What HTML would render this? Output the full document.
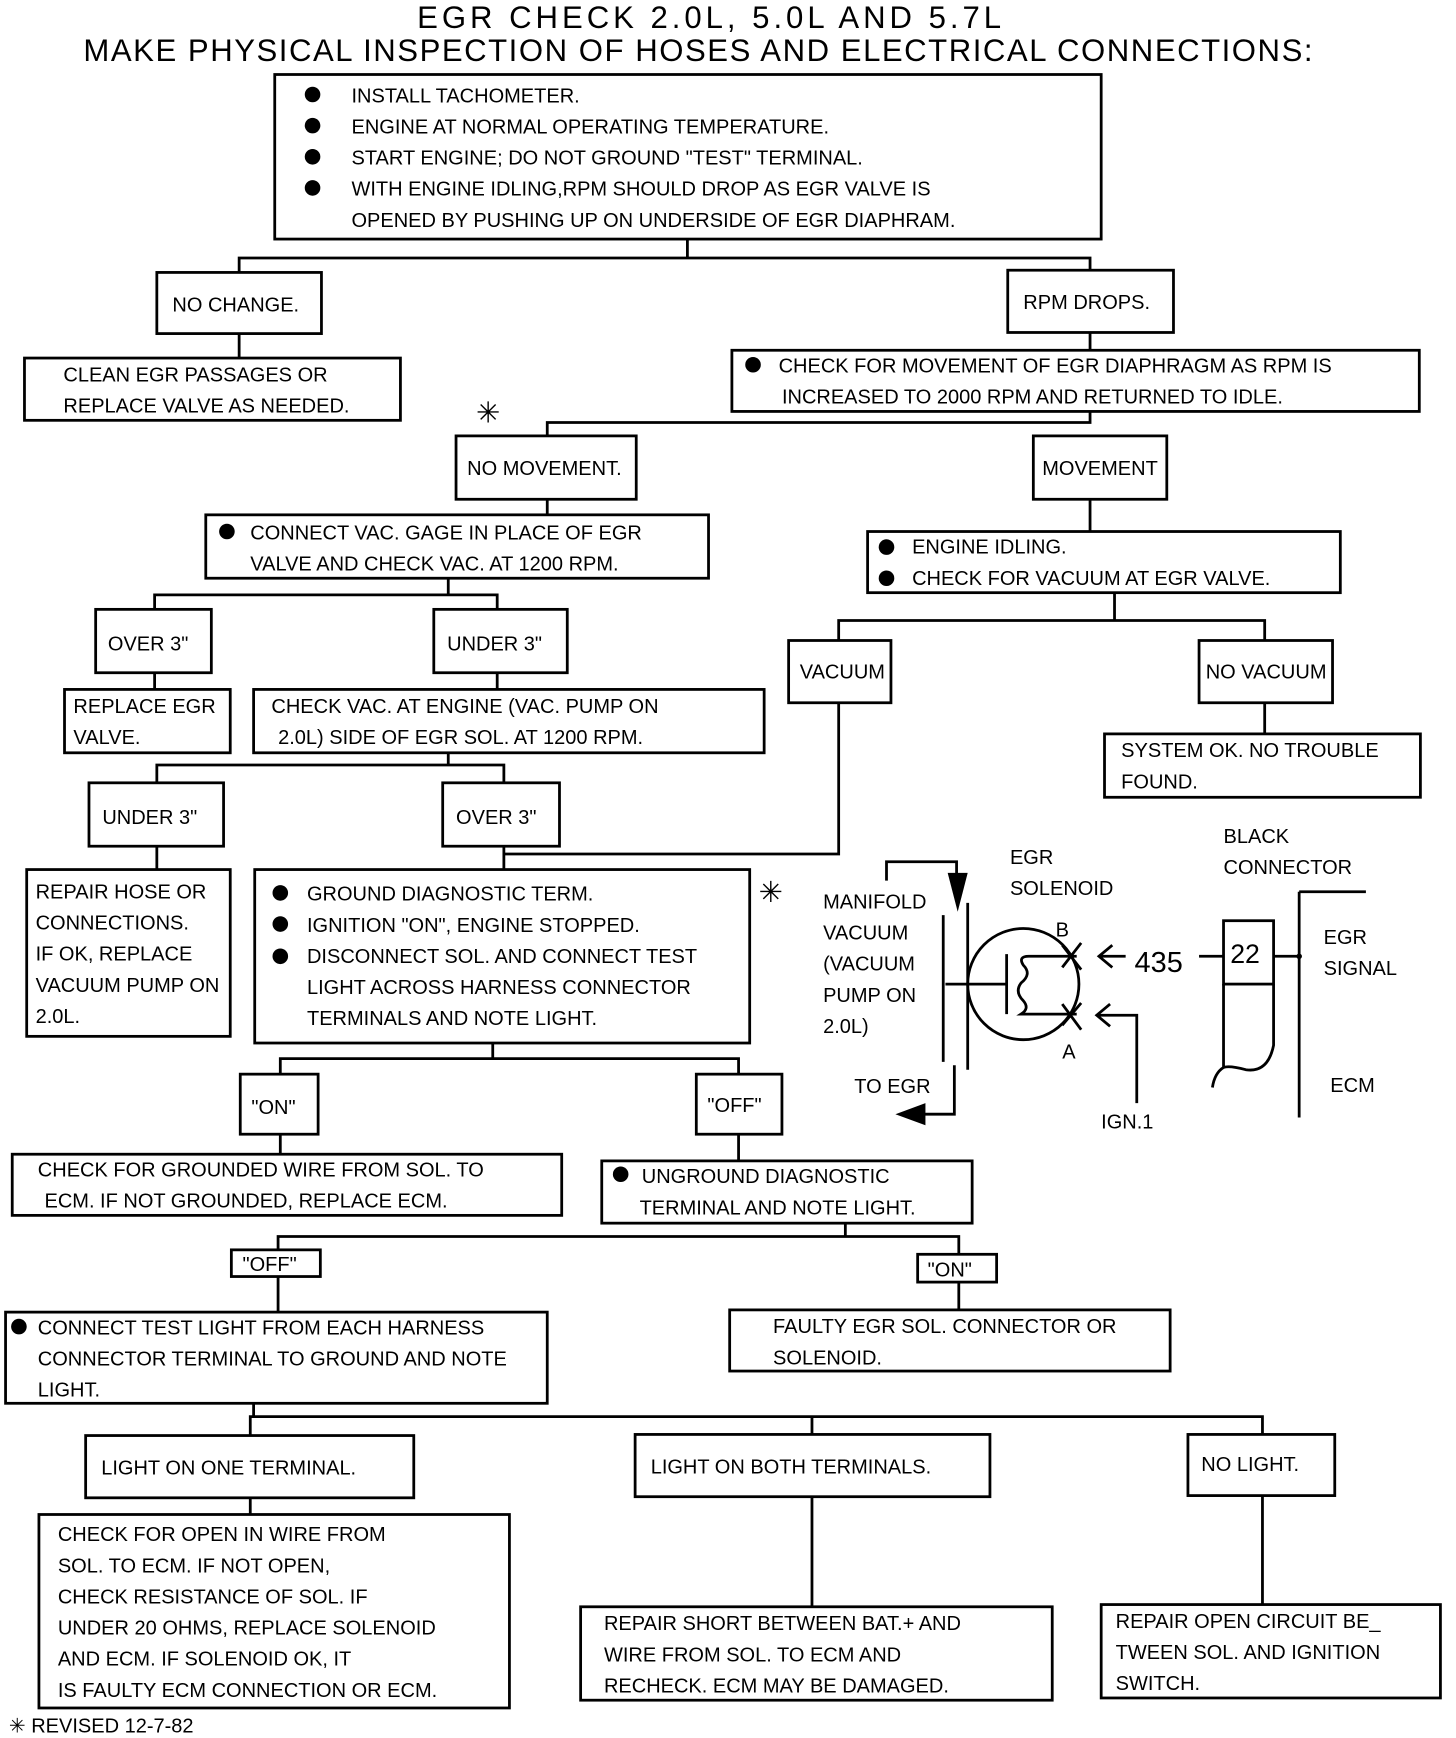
<!DOCTYPE html>
<html><head><meta charset="utf-8"><style>
html,body{margin:0;padding:0;background:#fff}
svg{display:block}
text{font-family:"Liberation Sans",sans-serif;font-size:18px;fill:#000}
</style></head><body>
<svg width="1456" height="1738" viewBox="0 0 1309 1563" preserveAspectRatio="none" xmlns="http://www.w3.org/2000/svg">
<g fill="none" stroke="#000" stroke-width="2.5">
<rect x="247" y="67" width="743" height="148"/>
<rect x="141" y="245" width="148" height="55"/>
<rect x="22" y="322" width="338" height="56"/>
<rect x="906" y="243" width="149" height="56"/>
<rect x="658" y="315" width="618" height="55"/>
<rect x="410" y="392" width="162" height="57"/>
<rect x="929" y="392" width="120" height="57"/>
<rect x="185" y="463" width="452" height="57"/>
<rect x="780" y="478" width="425" height="55"/>
<rect x="86" y="548" width="104" height="57"/>
<rect x="390" y="548" width="120" height="57"/>
<rect x="58" y="620" width="149" height="57"/>
<rect x="228" y="620" width="459" height="57"/>
<rect x="80" y="704" width="121" height="57"/>
<rect x="398" y="704" width="105" height="57"/>
<rect x="24" y="782" width="183" height="150"/>
<rect x="229" y="782" width="445" height="156"/>
<rect x="709" y="576" width="92" height="56"/>
<rect x="1078" y="576" width="120" height="56"/>
<rect x="993" y="660" width="284" height="57"/>
<rect x="216" y="966" width="70" height="54"/>
<rect x="626" y="966" width="77" height="54"/>
<rect x="11" y="1038" width="494" height="55"/>
<rect x="541" y="1044" width="333" height="56"/>
<rect x="208" y="1124" width="80" height="24"/>
<rect x="825" y="1128" width="71" height="25"/>
<rect x="5" y="1180" width="487" height="82"/>
<rect x="656" y="1178" width="396" height="55"/>
<rect x="77" y="1291" width="295" height="56"/>
<rect x="571" y="1290" width="319" height="56"/>
<rect x="1068" y="1290" width="132" height="55"/>
<rect x="35" y="1362" width="423" height="174"/>
<rect x="522" y="1445" width="424" height="84"/>
<rect x="990" y="1443" width="305" height="84"/>
<path d="M618 215V232M215 245V232H980V243M215 300V322M980 299V315M980 370V380H492V392M492 449V463M980 449V478"/>
<path d="M403 520V535M139 548V535H447V548M139 605V620M447 605V620"/>
<path d="M403 677V688M141 704V688H453V704M141 761V782M453 761V782M453 768H754V632"/>
<path d="M1002 533V558M754 576V558H1137V576M1137 632V660"/>
<path d="M443 938V952M252 966V952H664V966M252 1020V1038M664 1020V1044"/>
<path d="M760 1100V1112M250 1124V1112H862V1128M250 1148V1180M862 1153V1178"/>
<path d="M228 1262V1274M225 1291V1274H1135V1290M730 1274V1290M225 1347V1362M730 1346V1445M1135 1345V1443"/>
<path d="M797 792V775H860V788"/>
<path d="M848 823V955M870 812V962"/>
<path d="M858 958V1002H830"/>
<circle cx="920" cy="885" r="50"/>
<path d="M850 885H905M905 858V912"/>
<path d="M968 860H925Q915 860 920 868Q928 876 918 884Q912 892 920 900Q926 907 918 912H968"/>
<path d="M955 850L972 872M955 922L972 902M955 903L972 926M955 870L972 848"/>
<path d="M1000 850L988 860L1000 870M988 860H1012"/>
<path d="M998 903L986 913L998 923M986 913H1022V992"/>
<path d="M1078 860H1100"/>
<rect x="1100" y="828" width="45" height="57"/>
<path d="M1100 885V960M1145 885V940Q1140 965 1120 962Q1105 958 1100 960Q1092 965 1090 978M1145 860H1168M1168 802V1005M1168 802H1228"/>
</g>
<g fill="#000">
<polygon points="852,785 870,785 861,820"/>
<polygon points="805,1002 832,992 832,1012"/>
<circle cx="1168" cy="860" r="2.5"/>
<circle cx="281" cy="85" r="7"/><circle cx="281" cy="113" r="7"/><circle cx="281" cy="141" r="7"/><circle cx="281" cy="169" r="7"/>
<circle cx="677" cy="328" r="7"/>
<circle cx="204" cy="478" r="7"/>
<circle cx="797" cy="492" r="7"/><circle cx="797" cy="520" r="7"/>
<circle cx="252" cy="803" r="7"/><circle cx="252" cy="831" r="7"/><circle cx="252" cy="860" r="7"/>
<circle cx="558" cy="1056" r="7"/>
<circle cx="17" cy="1193" r="7"/>
</g>
<text x="375" y="25" textLength="525" style="font-size:28px">EGR CHECK 2.0L, 5.0L AND 5.7L</text>
<text x="75" y="55" textLength="1105" style="font-size:28px">MAKE PHYSICAL INSPECTION OF HOSES AND ELECTRICAL CONNECTIONS:</text>
<text x="316" y="92">INSTALL TACHOMETER.</text>
<text x="316" y="120">ENGINE AT NORMAL OPERATING TEMPERATURE.</text>
<text x="316" y="148">START ENGINE; DO NOT GROUND "TEST" TERMINAL.</text>
<text x="316" y="176">WITH ENGINE IDLING,RPM SHOULD DROP AS EGR VALVE IS</text>
<text x="316" y="204">OPENED BY PUSHING UP ON UNDERSIDE OF EGR DIAPHRAM.</text>
<text x="155" y="280">NO CHANGE.</text>
<text x="57" y="343">CLEAN EGR PASSAGES OR</text>
<text x="57" y="371">REPLACE VALVE AS NEEDED.</text>
<text x="920" y="278">RPM DROPS.</text>
<text x="700" y="335">CHECK FOR MOVEMENT OF EGR DIAPHRAGM AS RPM IS</text>
<text x="703" y="363">INCREASED TO 2000 RPM AND RETURNED TO IDLE.</text>
<text x="428" y="380" style="font-size:26px">✳</text>
<text x="420" y="427">NO MOVEMENT.</text>
<text x="937" y="427">MOVEMENT</text>
<text x="225" y="485">CONNECT VAC. GAGE IN PLACE OF EGR</text>
<text x="225" y="513">VALVE AND CHECK VAC. AT 1200 RPM.</text>
<text x="820" y="498">ENGINE IDLING.</text>
<text x="820" y="526">CHECK FOR VACUUM AT EGR VALVE.</text>
<text x="97" y="585">OVER 3"</text>
<text x="402" y="585">UNDER 3"</text>
<text x="66" y="641">REPLACE EGR</text>
<text x="66" y="669">VALVE.</text>
<text x="244" y="641">CHECK VAC. AT ENGINE (VAC. PUMP ON</text>
<text x="250" y="669">2.0L) SIDE OF EGR SOL. AT 1200 RPM.</text>
<text x="719" y="610">VACUUM</text>
<text x="1084" y="610">NO VACUUM</text>
<text x="1008" y="681">SYSTEM OK. NO TROUBLE</text>
<text x="1008" y="709">FOUND.</text>
<text x="92" y="741">UNDER 3"</text>
<text x="410" y="741">OVER 3"</text>
<text x="32" y="808">REPAIR HOSE OR</text>
<text x="32" y="836">CONNECTIONS.</text>
<text x="32" y="864">IF OK, REPLACE</text>
<text x="32" y="892">VACUUM PUMP ON</text>
<text x="32" y="920">2.0L.</text>
<text x="276" y="810">GROUND DIAGNOSTIC TERM.</text>
<text x="276" y="838">IGNITION "ON", ENGINE STOPPED.</text>
<text x="276" y="866">DISCONNECT SOL. AND CONNECT TEST</text>
<text x="276" y="894">LIGHT ACROSS HARNESS CONNECTOR</text>
<text x="276" y="922">TERMINALS AND NOTE LIGHT.</text>
<text x="682" y="811" style="font-size:26px">✳</text>
<text x="908" y="777">EGR</text>
<text x="908" y="805">SOLENOID</text>
<text x="1100" y="758">BLACK</text>
<text x="1100" y="786">CONNECTOR</text>
<text x="740" y="817">MANIFOLD</text>
<text x="740" y="845">VACUUM</text>
<text x="740" y="873">(VACUUM</text>
<text x="740" y="901">PUMP ON</text>
<text x="740" y="929">2.0L)</text>
<text x="949" y="842">B</text>
<text x="955" y="952">A</text>
<text x="1020" y="874" style="font-size:26px">435</text>
<text x="1106" y="866" style="font-size:24px">22</text>
<text x="1190" y="849">EGR</text>
<text x="1190" y="877">SIGNAL</text>
<text x="768" y="983">TO EGR</text>
<text x="1196" y="982">ECM</text>
<text x="990" y="1015">IGN.1</text>
<text x="226" y="1002">"ON"</text>
<text x="636" y="1000">"OFF"</text>
<text x="34" y="1058">CHECK FOR GROUNDED WIRE FROM SOL. TO</text>
<text x="40" y="1086">ECM.  IF NOT GROUNDED, REPLACE ECM.</text>
<text x="577" y="1064">UNGROUND DIAGNOSTIC</text>
<text x="575" y="1092">TERMINAL AND NOTE LIGHT.</text>
<text x="218" y="1143">"OFF"</text>
<text x="834" y="1148">"ON"</text>
<text x="34" y="1200">CONNECT TEST LIGHT FROM EACH HARNESS</text>
<text x="34" y="1228">CONNECTOR TERMINAL TO GROUND AND NOTE</text>
<text x="34" y="1256">LIGHT.</text>
<text x="695" y="1199">FAULTY EGR SOL. CONNECTOR OR</text>
<text x="695" y="1227">SOLENOID.</text>
<text x="91" y="1326">LIGHT ON ONE TERMINAL.</text>
<text x="585" y="1325">LIGHT ON BOTH TERMINALS.</text>
<text x="1080" y="1323">NO LIGHT.</text>
<text x="52" y="1386">CHECK FOR OPEN IN WIRE FROM</text>
<text x="52" y="1414">SOL. TO ECM.  IF NOT OPEN,</text>
<text x="52" y="1442">CHECK RESISTANCE OF SOL. IF</text>
<text x="52" y="1470">UNDER 20 OHMS, REPLACE SOLENOID</text>
<text x="52" y="1498">AND ECM.  IF SOLENOID OK, IT</text>
<text x="52" y="1526">IS FAULTY ECM CONNECTION OR ECM.</text>
<text x="543" y="1466">REPAIR SHORT BETWEEN BAT.+ AND</text>
<text x="543" y="1494">WIRE FROM SOL. TO ECM AND</text>
<text x="543" y="1522">RECHECK.  ECM MAY BE DAMAGED.</text>
<text x="1003" y="1464">REPAIR OPEN CIRCUIT BE_</text>
<text x="1003" y="1492">TWEEN SOL. AND IGNITION</text>
<text x="1003" y="1520">SWITCH.</text>
<text x="8" y="1558">✳ REVISED 12-7-82</text>
</svg>
</body></html>
